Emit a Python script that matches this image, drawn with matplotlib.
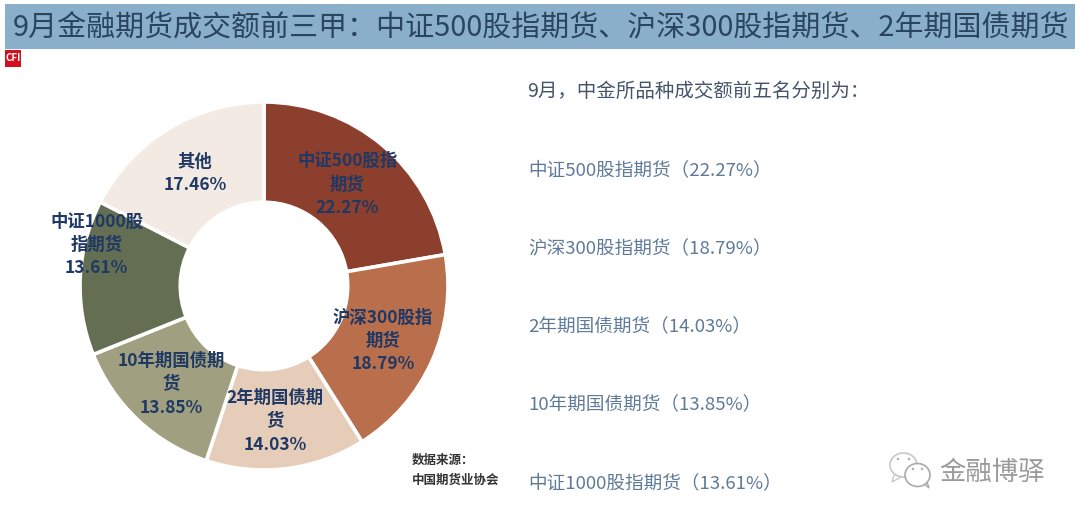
import numpy as np
import matplotlib
matplotlib.use('Agg')
import matplotlib.pyplot as plt
from matplotlib.patches import Rectangle, Ellipse, Polygon

plt.rcParams['font.family'] = ['Noto Sans CJK SC', 'DejaVu Sans']

TITLE = '9月金融期货成交额前三甲：中证500股指期货、沪深300股指期货、2年期国债期货'
names = ['中证500股指\n期货', '沪深300股指\n期货', '2年期国债期\n货', '10年期国债期\n货', '中证1000股\n指期货', '其他']
values = [22.27, 18.79, 14.03, 13.85, 13.61, 17.46]
colors = ['#8c3f2c', '#b96e4c', '#e5cdba', '#a0a080', '#636e52', '#f3ebe3']
intro = '9月，中金所品种成交额前五名分别为：'
top5 = ['中证500股指期货（22.27%）', '沪深300股指期货（18.79%）', '2年期国债期货（14.03%）',
        '10年期国债期货（13.85%）', '中证1000股指期货（13.61%）']
top5_y = [170, 249, 327, 405, 483]
# the labels do not all sit on the wedge centre line (pixels)
label_dx = [-2, -2, -5, -2, -35, 0]
label_dy = [0, 1, 4, 2, -35, 0]
W, H = 1080, 518

fig = plt.figure(figsize=(W/100, H/100), dpi=100)
bg = fig.add_axes([0, 0, 1, 1])
bg.set_xlim(0, W)
bg.set_ylim(H, 0)
bg.axis('off')

# title bar and logo
bg.add_patch(Rectangle((5, 4), 1070, 45, color='#8aafcb', lw=0))
bg.text(13, 28, TITLE, fontsize=20.85, color='#2a4560', va='center', ha='left', weight='light')
bg.add_patch(Rectangle((5, 50), 16, 17, color='#d2101f', lw=0))
bg.text(13, 58, 'CFI', fontsize=7, color='white', weight='bold', va='center', ha='center')

# donut
cx, cy, r = 264, 286, 184
ax = fig.add_axes([(cx-r)/W, 1-(cy+r)/H, 2*r/W, 2*r/H])
ax.patch.set_alpha(0)
wedges, _ = ax.pie(values, colors=colors, startangle=90, counterclock=False, radius=1,
                   wedgeprops=dict(width=0.545, edgecolor='white', linewidth=2.6))
ax.set_xlim(-1, 1)
ax.set_ylim(-1, 1)
for w, name, v, dx, dy in zip(wedges, names, values, label_dx, label_dy):
    a = np.deg2rad((w.theta1 + w.theta2) / 2)
    ax.text(0.72*np.cos(a) + dx/r, 0.72*np.sin(a) - dy/r, '%s\n%.2f%%' % (name, v), ha='center', va='center',
            fontsize=12.5, weight='bold', color='#1f3864', linespacing=1.38, clip_on=False)

# right side text
bg.text(527, 91, intro, fontsize=14, color='#44546a', va='center', weight='light')
for t, y in zip(top5, top5_y):
    bg.text(528, y, t, fontsize=13.4, color='#5f7a99', va='center', weight='light')

bg.text(412, 460, '数据来源：', fontsize=9, color='#333333', weight='bold', va='center')
bg.text(412, 480, '中国期货业协会', fontsize=9, color='#333333', weight='bold', va='center')

# watermark
bg.add_patch(Polygon([[895, 472], [892, 482], [903, 476]], fc='white', ec='#c8c8c8', lw=1))
bg.add_patch(Ellipse((903.5, 465), 27, 24, fc='white', ec='#c8c8c8', lw=1.2))
bg.add_patch(Polygon([[922, 482], [929, 488], [925, 476]], fc='white', ec='#aaaaaa', lw=1))
bg.add_patch(Ellipse((917.5, 475), 25, 23, fc='white', ec='#aaaaaa', lw=1.2))
for ex, ey in [(898, 459), (909, 459), (913, 469), (922, 469)]:
    bg.add_patch(Ellipse((ex, ey), 2.4, 2.4, fc='#aaaaaa', lw=0))
bg.text(939, 472, '金融博驿', fontsize=19, color='#9a9a9a', va='center', weight='light')

fig.savefig('out.png', dpi=100)
